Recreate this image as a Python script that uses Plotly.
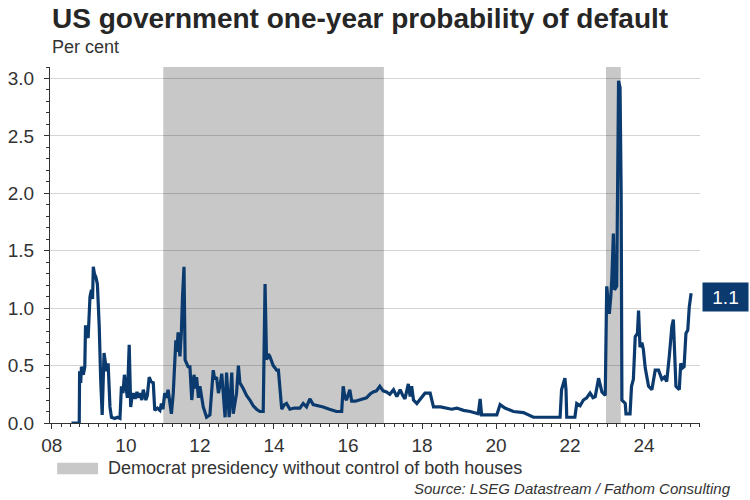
import plotly.graph_objects as go

# one-year default probability, per cent (dates as decimal years)
years = [
    2008.53, 2008.74, 2008.75, 2008.78, 2008.80, 2008.85, 2008.89, 2008.91, 2008.94, 2008.98,
    2009.03, 2009.07, 2009.10, 2009.12, 2009.15, 2009.19, 2009.23, 2009.28, 2009.32, 2009.36,
    2009.41, 2009.45, 2009.48, 2009.52, 2009.57, 2009.61, 2009.70, 2009.77, 2009.84, 2009.88,
    2009.92, 2009.96, 2010.00, 2010.04, 2010.09, 2010.13, 2010.17, 2010.20, 2010.25, 2010.30,
    2010.34, 2010.38, 2010.43, 2010.47, 2010.54, 2010.58, 2010.63, 2010.68, 2010.74, 2010.78,
    2010.85, 2010.92, 2010.96, 2011.00, 2011.05, 2011.10, 2011.14, 2011.18, 2011.23, 2011.28,
    2011.35, 2011.38, 2011.41, 2011.46, 2011.50, 2011.53, 2011.57, 2011.60, 2011.64, 2011.68,
    2011.73, 2011.78, 2011.84, 2011.88, 2011.91, 2011.96, 2012.00, 2012.04, 2012.09, 2012.18,
    2012.27, 2012.36, 2012.40, 2012.45, 2012.50, 2012.55, 2012.59, 2012.68, 2012.72, 2012.79,
    2012.86, 2012.90, 2012.99, 2013.04, 2013.08, 2013.17, 2013.26, 2013.35, 2013.44, 2013.53,
    2013.62, 2013.71, 2013.74, 2013.76, 2013.80, 2013.85, 2013.89, 2013.98, 2014.03, 2014.07,
    2014.12, 2014.21, 2014.28, 2014.34, 2014.43, 2014.55, 2014.70, 2014.79, 2014.88, 2014.97,
    2015.06, 2015.20, 2015.33, 2015.50, 2015.69, 2015.83, 2015.87, 2015.92, 2015.96, 2016.05,
    2016.10, 2016.20, 2016.32, 2016.50, 2016.59, 2016.68, 2016.77, 2016.86, 2016.95, 2017.04,
    2017.13, 2017.23, 2017.32, 2017.41, 2017.48, 2017.54, 2017.63, 2017.68, 2017.72, 2017.77,
    2017.86, 2017.99, 2018.08, 2018.22, 2018.31, 2018.50, 2018.67, 2018.80, 2018.94, 2019.12,
    2019.30, 2019.52, 2019.57, 2019.61, 2020.02, 2020.11, 2020.24, 2020.47, 2020.74, 2021.01,
    2021.73, 2021.77, 2021.86, 2021.89, 2021.91, 2022.13, 2022.18, 2022.27, 2022.36, 2022.45,
    2022.54, 2022.62, 2022.68, 2022.72, 2022.77, 2022.86, 2022.95, 2022.99, 2023.03, 2023.06,
    2023.10, 2023.13, 2023.17, 2023.20, 2023.26, 2023.31, 2023.35, 2023.38, 2023.40, 2023.49,
    2023.51, 2023.62, 2023.66, 2023.71, 2023.76, 2023.82, 2023.85, 2023.89, 2023.94, 2023.98,
    2024.03, 2024.07, 2024.12, 2024.21, 2024.30, 2024.39, 2024.48, 2024.55, 2024.61, 2024.68,
    2024.75, 2024.79, 2024.84, 2024.86, 2024.95, 2024.99, 2025.04, 2025.08, 2025.13, 2025.18,
    2025.22, 2025.27,
]
prob = [
    0.00, 0.00, 0.45, 0.35, 0.49, 0.42, 0.49, 0.85, 0.78, 0.74,
    1.10, 1.16, 1.08, 1.36, 1.30, 1.27, 1.21, 0.84, 0.37, 0.07,
    0.61, 0.52, 0.45, 0.52, 0.14, 0.05, 0.04, 0.05, 0.04, 0.32,
    0.26, 0.42, 0.30, 0.22, 0.68, 0.14, 0.24, 0.26, 0.21, 0.27,
    0.22, 0.26, 0.20, 0.29, 0.20, 0.24, 0.40, 0.36, 0.35, 0.11,
    0.13, 0.11, 0.17, 0.12, 0.26, 0.22, 0.29, 0.20, 0.08, 0.26,
    0.72, 0.62, 0.79, 0.58, 0.80, 1.10, 1.36, 0.55, 0.52, 0.49,
    0.49, 0.20, 0.42, 0.30, 0.40, 0.22, 0.32, 0.25, 0.14, 0.05,
    0.07, 0.46, 0.38, 0.40, 0.26, 0.34, 0.43, 0.05, 0.44, 0.05,
    0.44, 0.08, 0.26, 0.50, 0.35, 0.30, 0.24, 0.20, 0.15, 0.12,
    0.10, 0.10, 0.81, 1.21, 0.55, 0.60, 0.58, 0.50, 0.48, 0.46,
    0.46, 0.12, 0.16, 0.17, 0.12, 0.13, 0.13, 0.17, 0.14, 0.21,
    0.16, 0.15, 0.14, 0.12, 0.10, 0.10, 0.32, 0.22, 0.20, 0.29,
    0.19, 0.19, 0.20, 0.22, 0.25, 0.27, 0.28, 0.32, 0.28, 0.27,
    0.25, 0.29, 0.23, 0.29, 0.24, 0.21, 0.34, 0.23, 0.32, 0.20,
    0.17, 0.23, 0.26, 0.26, 0.14, 0.14, 0.13, 0.12, 0.13, 0.11,
    0.10, 0.08, 0.21, 0.07, 0.07, 0.16, 0.13, 0.10, 0.09, 0.05,
    0.05, 0.29, 0.39, 0.29, 0.05, 0.05, 0.17, 0.15, 0.20, 0.22,
    0.26, 0.22, 0.23, 0.32, 0.39, 0.27, 0.24, 1.19, 1.05, 0.95,
    1.10, 1.27, 1.65, 1.16, 1.19, 2.98, 2.92, 2.00, 0.20, 0.17,
    0.08, 0.08, 0.32, 0.38, 0.75, 0.78, 0.98, 0.66, 0.70, 0.64,
    0.48, 0.40, 0.32, 0.29, 0.46, 0.46, 0.38, 0.40, 0.36, 0.58,
    0.84, 0.90, 0.58, 0.32, 0.29, 0.52, 0.48, 0.49, 0.78, 0.81,
    1.01, 1.13,
]

# Democrat presidency without control of both houses
shade_start = [2011.01, 2022.97]
shade_end = [2016.97, 2023.37]

tick_years = [2008, 2010, 2012, 2014, 2016, 2018, 2020, 2022, 2024]
tick_labels = ["08", "10", "12", "14", "16", "18", "20", "22", "24"]

navy = "#0b3a6e"
shade = "#c8c8c8"
txt = "#333333"
font = "Liberation Sans, Arial, sans-serif"

fig = go.Figure()
fig.add_trace(go.Scatter(x=years, y=prob, mode="lines",
                         line=dict(color=navy, width=3.2), showlegend=False,
                         hoverinfo="skip"))

for s, e in zip(shade_start, shade_end):
    fig.add_vrect(x0=s, x1=e, fillcolor=shade, line_width=0, layer="below", opacity=1)

# legend swatch + text
fig.add_shape(type="rect", xref="paper", yref="paper", x0=0.011, x1=0.074,
              y0=-0.1115, y1=-0.1441, fillcolor=shade, line_width=0)
fig.add_annotation(xref="paper", yref="paper", x=0.086, y=-0.126, xanchor="left",
                   yanchor="middle", showarrow=False,
                   text="Democrat presidency without control of both houses",
                   font=dict(family=font, size=18, color=txt))

fig.add_annotation(xref="paper", yref="paper", x=1.051, y=-0.183, xanchor="right",
                   yanchor="middle", showarrow=False,
                   text="<i>Source: LSEG Datastream / Fathom Consulting</i>",
                   font=dict(family=font, size=15, color=txt))

fig.add_annotation(xref="paper", yref="paper", x=0.0, y=1.056, xanchor="left",
                   yanchor="middle", showarrow=False, text="Per cent",
                   font=dict(family=font, size=18, color=txt))

# end-value label
fig.add_annotation(xref="paper", yref="y", x=1.003, y=prob[-1] - 0.03, xanchor="left",
                   yanchor="middle", showarrow=False, text=f"{prob[-1]:.1f}",
                   bgcolor=navy, width=43, height=26,
                   font=dict(family=font, size=19, color="white"))

fig.update_layout(
    width=750, height=500,
    margin=dict(l=50, r=50, t=67, b=77, autoexpand=False),
    paper_bgcolor="white", plot_bgcolor="white",
    title=dict(text="<b>US government one-year probability of default</b>",
               x=52 / 750, xanchor="left", y=1 - 18 / 500, yanchor="middle",
               font=dict(family=font, size=28, color="#262626")),
)
fig.update_xaxes(
    range=[2007.95, 2025.51], tickvals=tick_years, ticktext=tick_labels,
    showgrid=False, zeroline=False, showline=True, linecolor=txt, linewidth=1,
    ticks="outside", ticklen=5, tickcolor=txt, automargin=False,
    minor=dict(dtick=0.25, tick0=2008, ticks="outside", ticklen=3, tickcolor=txt, showgrid=False),
    tickfont=dict(family=font, size=19, color=txt),
)
fig.update_yaxes(
    range=[0, 3.1], dtick=0.5, tickformat=".1f",
    showgrid=True, gridcolor="rgba(0,0,0,0.17)", gridwidth=1,
    zeroline=False, showline=True, linecolor=txt, linewidth=1,
    ticks="outside", ticklen=5, tickcolor=txt, ticklabelstandoff=6, automargin=False,
    minor=dict(dtick=0.1, ticks="outside", ticklen=3, tickcolor=txt, showgrid=False),
    tickfont=dict(family=font, size=19, color=txt),
)

# the page's default body margin would push the 750x500 figure off the window
fig.write_html("out.html", config={"displayModeBar": False},
               post_script="document.body.style.margin = '0';")
